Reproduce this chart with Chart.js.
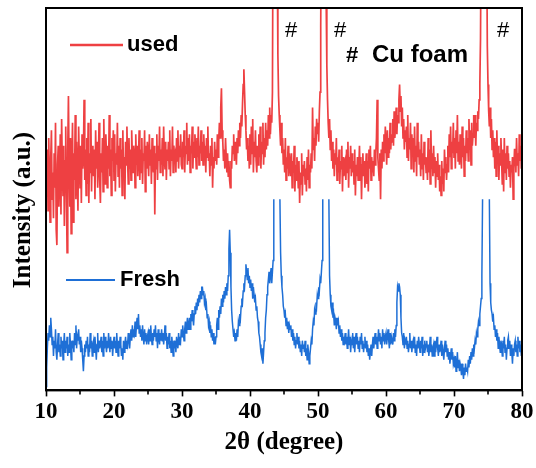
<!DOCTYPE html>
<html>
<head>
<meta charset="utf-8">
<script src="https://cdn.jsdelivr.net/npm/chart.js@4"></script>
<style>
  html, body { margin: 0; padding: 0; background: #fff; }
  #wrap { width: 536px; height: 468px; }
</style>
</head>
<body>
<div id="wrap"><canvas id="xrd" width="536" height="468"></canvas></div>
<script>
// 2theta from 10 to 80, one value every 0.1 degree (10 per line below)
const startAngle = 10;
const angleStep = 0.1;
const xTicks = [10, 20, 30, 40, 50, 60, 70, 80];
const minorTicks = [15, 25, 35, 45, 55, 65, 75];

// used sample (offset upward), Cu foam peaks run off the top
const used = [
  58, 52, 63, 47, 66, 55, 44, 61, 68, 50,   // 10
  57, 45, 62, 53, 70, 42, 38, 59, 64, 48,
  55, 67, 46, 71, 58, 51, 64, 43, 60, 69,
  52, 36, 63, 77, 58, 48, 66, 41, 59, 70,
  44, 62, 55, 72, 50, 65, 57, 47, 69, 60,
  53, 64, 49, 67, 58, 61, 76, 55, 63, 51,   // 15
  66, 54, 70, 49, 62, 57, 71, 52, 64, 59,
  56, 63, 50, 68, 58, 65, 53, 60, 70, 55,
  49, 62, 57, 66, 52, 71, 59, 54, 67, 61,
  53, 64, 58, 72, 56, 63, 51, 66, 60, 68,
  55, 67, 52, 62, 59, 70, 56, 64, 53, 66,   // 20
  58, 63, 51, 68, 57, 61, 50, 65, 59, 69,
  60, 54, 66, 58, 63, 55, 68, 61, 57, 64,
  62, 53, 67, 59, 64, 56, 61, 68, 55, 63,
  57, 66, 54, 62, 60, 68, 52, 64, 58, 65,
  61, 56, 67, 59, 63, 54, 66, 60, 57, 64,   // 25
  46, 62, 58, 67, 55, 64, 60, 69, 57, 63,
  59, 66, 56, 69, 61, 58, 65, 55, 63, 60,
  65, 58, 68, 56, 63, 60, 69, 57, 64, 61,
  62, 57, 66, 60, 68, 58, 64, 61, 67, 59,
  58, 65, 61, 68, 57, 64, 62, 70, 59, 66,   // 30
  60, 67, 57, 64, 62, 69, 58, 65, 61, 67,
  63, 58, 66, 61, 69, 59, 64, 62, 68, 60,
  65, 59, 67, 62, 64, 57, 66, 61, 69, 60,
  62, 56, 64, 59, 66, 53, 61, 58, 65, 60,
  63, 59, 67, 61, 65, 70, 66, 74, 79, 68,   // 35
  65, 60, 63, 58, 66, 61, 57, 62, 56, 60,
  55, 53, 60, 58, 64, 62, 67, 60, 65, 63,
  59, 66, 62, 68, 64, 70, 66, 72, 69, 75,
  80, 84, 78, 72, 68, 63, 66, 60, 64, 58,
  67, 59, 69, 62, 71, 57, 65, 61, 68, 60,   // 40
  57, 64, 59, 67, 61, 69, 58, 65, 62, 70,
  59, 66, 61, 70, 63, 68, 64, 72, 66, 74,
  67, 72, 70, 78, 130, 400, 400, 400, 400, 400,
  115, 88, 77, 72, 68, 64, 70, 62, 66, 59,
  63, 57, 66, 55, 61, 58, 64, 56, 62, 59,   // 45
  56, 62, 53, 60, 57, 64, 52, 59, 55, 61,
  58, 53, 60, 49, 57, 54, 62, 51, 59, 56,
  60, 54, 58, 52, 61, 55, 63, 53, 59, 57,
  62, 58, 74, 63, 66, 60, 69, 64, 71, 67,
  70, 65, 73, 78, 95, 130, 400, 400, 400, 400,   // 50
  400, 400, 102, 85, 76, 70, 66, 71, 63, 68,
  60, 65, 58, 63, 56, 62, 59, 66, 55, 61,
  57, 63, 54, 60, 58, 64, 52, 61, 56, 59,
  60, 55, 63, 57, 65, 53, 61, 58, 64, 56,
  62, 57, 60, 54, 63, 51, 59, 56, 61, 55,   // 55
  58, 64, 55, 61, 50, 59, 62, 56, 60, 53,
  57, 62, 54, 60, 52, 63, 58, 64, 55, 61,
  57, 60, 56, 63, 59, 62, 66, 76, 61, 58,
  55, 62, 50, 63, 58, 65, 60, 67, 62, 69,
  64, 59, 68, 61, 66, 62, 70, 63, 67, 65,   // 60
  71, 64, 73, 66, 69, 74, 67, 72, 70, 76,
  80, 73, 77, 69, 74, 66, 71, 63, 68, 65,
  69, 61, 72, 60, 66, 63, 70, 58, 67, 62,
  66, 57, 69, 60, 64, 56, 70, 61, 65, 59,
  63, 56, 67, 58, 62, 55, 65, 59, 61, 57,   // 65
  61, 55, 66, 57, 63, 54, 68, 58, 62, 56,
  64, 57, 61, 53, 60, 56, 62, 55, 59, 52,
  56, 51, 60, 54, 58, 52, 63, 57, 61, 55,
  59, 64, 57, 67, 61, 69, 58, 65, 62, 70,
  61, 66, 58, 68, 62, 72, 60, 65, 59, 67,   // 70
  63, 58, 69, 61, 66, 56, 64, 60, 68, 62,
  66, 60, 71, 63, 68, 59, 70, 64, 67, 72,
  66, 72, 64, 70, 68, 73, 71, 76, 80, 92,
  125, 400, 400, 400, 400, 400, 400, 400, 120, 90,
  80, 73, 69, 74, 66, 71, 63, 68, 61, 66,   // 75
  58, 65, 56, 68, 60, 64, 55, 62, 59, 66,
  60, 54, 63, 52, 66, 57, 62, 55, 64, 58,
  62, 56, 60, 53, 59, 57, 61, 50, 58, 63,
  63, 57, 66, 59, 62, 56, 67, 60, 64, 58,
  64                                          // 80
];

// fresh sample, peak tops cut off (gaps)
const fresh = [
  1, 6, 11, 15, 13, 17, 14, 19, 16, 12,     // 10
  14, 9, 13, 11, 16, 10, 8, 12, 15, 10,
  12, 9, 14, 11, 13, 8, 12, 15, 10, 13,
  11, 14, 9, 12, 10, 15, 12, 8, 13, 11,
  13, 10, 15, 12, 17, 11, 14, 13, 16, 12,
  14, 10, 13, 11, 8, 5, 9, 12, 10, 13,      // 15
  11, 14, 9, 12, 10, 15, 11, 13, 9, 12,
  13, 10, 14, 11, 8, 12, 15, 10, 13, 11,
  12, 14, 10, 13, 9, 15, 11, 14, 12, 10,
  13, 11, 15, 12, 10, 14, 11, 13, 9, 12,
  14, 11, 13, 10, 15, 12, 9, 13, 11, 14,    // 20
  12, 9, 11, 8, 13, 10, 12, 14, 11, 13,
  12, 15, 13, 11, 14, 16, 13, 17, 14, 16,
  15, 18, 14, 17, 19, 16, 20, 15, 17, 14,
  16, 13, 17, 14, 12, 16, 13, 15, 12, 14,
  15, 12, 16, 13, 17, 14, 12, 15, 13, 16,   // 25
  14, 17, 13, 15, 11, 16, 14, 12, 15, 13,
  16, 13, 15, 12, 14, 17, 13, 15, 11, 14,
  12, 15, 11, 13, 10, 14, 12, 9, 13, 11,
  13, 10, 14, 12, 11, 15, 12, 14, 13, 16,
  14, 17, 15, 13, 16, 18, 15, 17, 19, 16,   // 30
  17, 19, 16, 20, 18, 21, 19, 17, 20, 22,
  20, 23, 21, 24, 22, 25, 23, 26, 24, 27,
  27, 25, 26, 23, 24, 21, 22, 19, 20, 17,
  18, 15, 17, 14, 16, 13, 15, 12, 14, 12,
  14, 17, 19, 16, 21, 19, 22, 20, 24, 22,   // 35
  25, 23, 26, 24, 27, 25, 28, 26, 30, 37,
  42, 36, 27, 21, 18, 16, 14, 15, 13, 15,
  13, 16, 14, 18, 17, 20, 19, 22, 24, 23,
  26, 28, 27, 30, 33, 31, 29, 32, 28, 30,
  27, 29, 26, 28, 24, 27, 25, 23, 24, 21,   // 40
  22, 19, 18, 15, 14, 12, 10, 9, 11, 7,
  10, 13, 15, 19, 21, 25, 27, 29, 31, 28,
  30, 32, 28, 31, 34, 50, null, null, null, null,
  null, null, null, null, 50, 36, 30, 27, 25, 22,
  21, 19, 20, 17, 19, 16, 18, 15, 17, 16,   // 45
  17, 14, 16, 13, 15, 12, 14, 11, 13, 15,
  12, 14, 11, 13, 10, 12, 9, 13, 11, 12,
  10, 13, 9, 11, 8, 12, 10, 7, 9, 11,
  13, 12, 16, 18, 17, 21, 20, 23, 22, 25,
  24, 27, 26, 29, 28, 31, 34, 50, null, null,   // 50
  null, null, null, null, null, null, 50, 30, 25, 22,
  21, 23, 19, 20, 17, 19, 18, 16, 19, 17,
  18, 15, 17, 14, 16, 13, 15, 12, 14, 13,
  15, 12, 14, 11, 13, 16, 12, 14, 10, 13,
  12, 15, 11, 14, 10, 13, 15, 12, 14, 11,   // 55
  13, 10, 14, 12, 15, 11, 13, 10, 12, 14,
  11, 13, 10, 12, 9, 11, 8, 10, 12, 9,
  12, 14, 11, 13, 15, 12, 14, 11, 13, 16,
  13, 15, 12, 14, 11, 16, 13, 15, 12, 14,
  15, 12, 14, 16, 13, 11, 15, 12, 14, 13,   // 60
  12, 15, 13, 16, 14, 17, 23, 27, 26, 28,
  27, 25, 19, 15, 14, 12, 15, 11, 13, 12,
  14, 11, 13, 10, 12, 15, 11, 13, 10, 12,
  13, 11, 14, 10, 12, 9, 13, 11, 14, 12,
  10, 13, 11, 14, 9, 12, 10, 13, 11, 12,    // 65
  13, 10, 12, 9, 11, 14, 10, 12, 9, 11,
  12, 9, 13, 10, 12, 14, 11, 9, 12, 10,
  11, 13, 9, 12, 10, 8, 11, 13, 10, 12,
  9, 11, 8, 10, 7, 9, 11, 8, 10, 7,
  8, 6, 9, 5, 7, 10, 6, 8, 5, 7,            // 70
  6, 4, 7, 5, 3, 6, 4, 7, 5, 6,
  5, 8, 6, 9, 7, 10, 8, 11, 9, 12,
  11, 13, 12, 15, 14, 16, 18, 17, 20, 22,
  24, 30, 50, null, null, null, null, null, null, null,
  null, null, 50, 28, 23, 21, 20, 18, 19, 16,   // 75
  17, 14, 16, 13, 15, 11, 14, 12, 10, 13,
  12, 9, 13, 11, 14, 10, 12, 8, 11, 13,
  14, 11, 13, 9, 12, 10, 7, 11, 9, 12,
  13, 10, 12, 9, 14, 11, 13, 10, 12, 9,
  11                                          // 80
];

const angles = used.map((v, i) => startAngle + i * angleStep);
const toPoints = arr => arr.map((v, i) => ({ x: angles[i], y: v }));

const redColor = '#ee4042';
const blueColor = '#1e6fd6';
const serif = '"Liberation Serif", "Times New Roman", serif';
const sans = '"Liberation Sans", Arial, sans-serif';

// frame, minor ticks, y title, in-plot legend and labels
const decor = {
  id: 'decor',
  afterDraw(chart) {
    const { ctx, chartArea: a } = chart;
    const xs = chart.scales.x;
    ctx.save();
    ctx.strokeStyle = '#000';
    ctx.lineWidth = 2;
    ctx.strokeRect(a.left, a.top, a.right - a.left, a.bottom - a.top);

    ctx.lineWidth = 1.6;
    minorTicks.forEach(t => {
      const px = xs.getPixelForValue(t);
      ctx.beginPath();
      ctx.moveTo(px, a.bottom);
      ctx.lineTo(px, a.bottom + 4);
      ctx.stroke();
    });

    ctx.fillStyle = '#000';
    ctx.font = 'bold 25px ' + serif;
    ctx.textAlign = 'center';
    ctx.textBaseline = 'middle';
    ctx.translate(24, 210);
    ctx.rotate(-Math.PI / 2);
    ctx.fillText('Intensity (a.u.)', 0, 0);
    ctx.restore();

    ctx.save();
    ctx.lineWidth = 2.5;
    ctx.strokeStyle = redColor;
    ctx.beginPath(); ctx.moveTo(70, 45); ctx.lineTo(123, 45); ctx.stroke();
    ctx.strokeStyle = blueColor;
    ctx.lineWidth = 2;
    ctx.beginPath(); ctx.moveTo(66, 280); ctx.lineTo(115, 280); ctx.stroke();

    ctx.fillStyle = '#000';
    ctx.textBaseline = 'middle';
    ctx.textAlign = 'left';
    ctx.font = 'bold 22px ' + sans;
    ctx.fillText('used', 127, 45);
    ctx.fillText('Fresh', 120, 280);

    ctx.font = '22px ' + sans;
    ctx.textAlign = 'center';
    [291, 340, 503].forEach(px => ctx.fillText('#', px, 31));
    ctx.textAlign = 'left';
    ctx.font = 'bold 22px ' + sans;
    ctx.fillText('#', 346, 56);
    ctx.font = 'bold 24px ' + sans;
    ctx.fillText('Cu foam', 372, 55);
    ctx.restore();
  }
};

new Chart(document.getElementById('xrd'), {
  type: 'line',
  data: {
    datasets: [
      {
        label: 'used',
        data: toPoints(used),
        borderColor: redColor,
        borderWidth: 1.7,
        pointRadius: 0,
        tension: 0
      },
      {
        label: 'Fresh',
        data: toPoints(fresh),
        borderColor: blueColor,
        borderWidth: 1.5,
        pointRadius: 0,
        tension: 0,
        spanGaps: false
      }
    ]
  },
  options: {
    responsive: false,
    animation: false,
    layout: { padding: { left: 46, right: 14, top: 8, bottom: 10 } },
    plugins: {
      legend: { display: false },
      tooltip: { enabled: false }
    },
    scales: {
      x: {
        type: 'linear',
        min: 10,
        max: 80,
        afterBuildTicks: scale => { scale.ticks = xTicks.map(v => ({ value: v })); },
        ticks: {
          color: '#000',
          padding: 2,
          font: { family: serif, size: 23, weight: 'bold' }
        },
        grid: {
          drawOnChartArea: false,
          tickLength: 6,
          tickWidth: 1.6,
          tickColor: '#000'
        },
        border: { display: true, color: '#000', width: 2 },
        title: {
          display: true,
          text: '2θ (degree)',
          color: '#000',
          padding: { top: 0, bottom: 0 },
          font: { family: serif, size: 25, weight: 'bold' }
        }
      },
      y: {
        display: false,
        min: 0,
        max: 100
      }
    }
  },
  plugins: [decor]
});
</script>
</body>
</html>
